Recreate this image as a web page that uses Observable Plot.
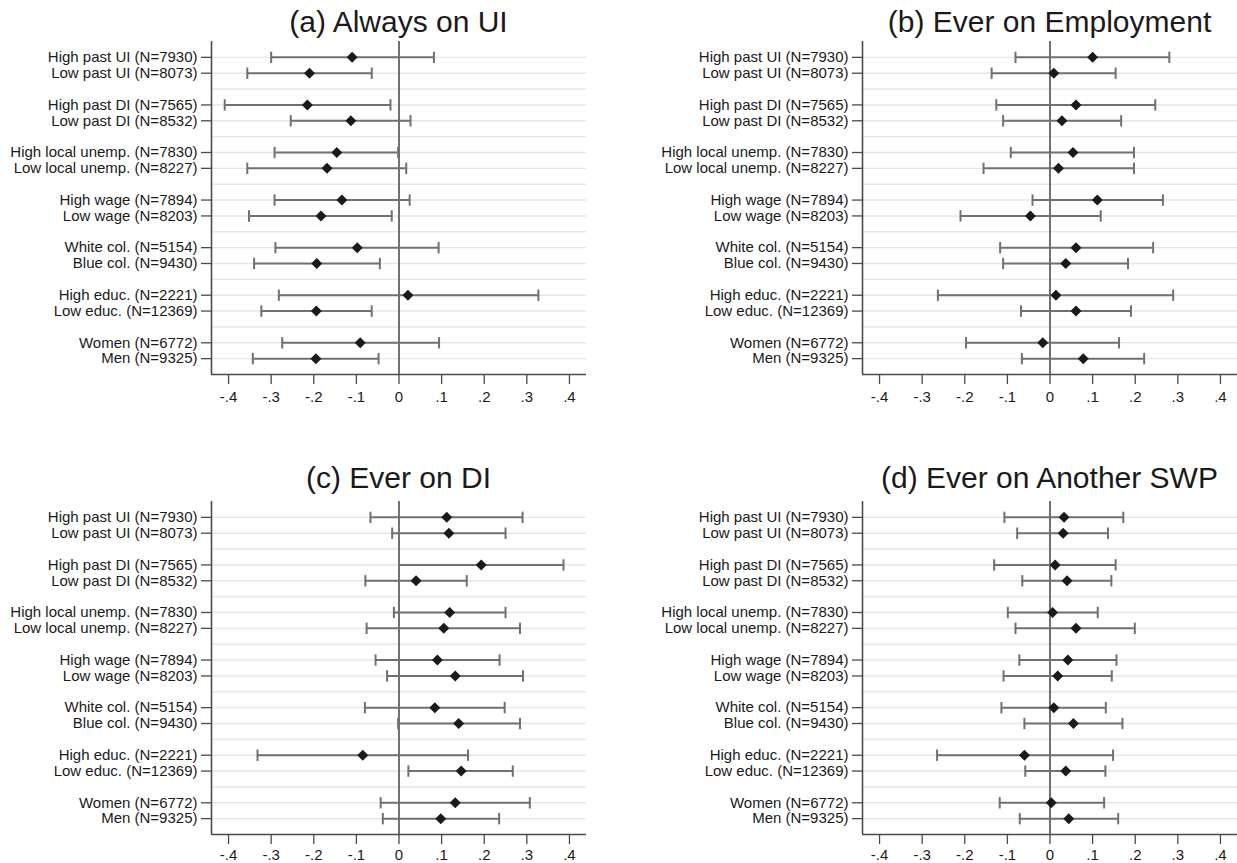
<!DOCTYPE html>
<html>
<head>
<meta charset="utf-8">
<script src="https://cdn.jsdelivr.net/npm/d3@7"></script>
<script src="https://cdn.jsdelivr.net/npm/@observablehq/plot@0.6"></script>
<style>
  html, body { margin: 0; padding: 0; background: #ffffff; }
  #root { position: relative; width: 1237px; height: 863px; background: #ffffff; overflow: hidden;
          font-family: 'Liberation Sans', Arial, Helvetica, sans-serif; }
  .panel { position: absolute; }
  .title { position: absolute; text-align: center; font-size: 30px; line-height: 30px; color: #1a1a1a; white-space: nowrap; }
</style>
</head>
<body>
<div id="root"></div>
<script>
// ---- Data ----
const rowLabels = [
  "High past UI (N=7930)", "Low past UI (N=8073)",
  "High past DI (N=7565)", "Low past DI (N=8532)",
  "High local unemp. (N=7830)", "Low local unemp. (N=8227)",
  "High wage (N=7894)", "Low wage (N=8203)",
  "White col. (N=5154)", "Blue col. (N=9430)",
  "High educ. (N=2221)", "Low educ. (N=12369)",
  "Women (N=6772)", "Men (N=9325)"
];
const panelTitles = ["(a) Always on UI", "(b) Ever on Employment", "(c) Ever on DI", "(d) Ever on Another SWP"];
const xTicks = [-0.4, -0.3, -0.2, -0.1, 0, 0.1, 0.2, 0.3, 0.4];

const estA = [-0.110, -0.210, -0.215, -0.113, -0.146, -0.169, -0.134, -0.183, -0.098, -0.193, 0.021, -0.194, -0.091, -0.195];
const loA  = [-0.300, -0.356, -0.409, -0.254, -0.292, -0.356, -0.292, -0.352, -0.290, -0.340, -0.282, -0.323, -0.274, -0.343];
const hiA  = [0.082, -0.064, -0.020, 0.027, -0.002, 0.017, 0.025, -0.017, 0.093, -0.045, 0.327, -0.064, 0.094, -0.048];

const estB = [0.100, 0.009, 0.061, 0.028, 0.054, 0.020, 0.111, -0.046, 0.061, 0.037, 0.014, 0.061, -0.017, 0.078];
const loB  = [-0.081, -0.137, -0.126, -0.110, -0.092, -0.156, -0.041, -0.210, -0.117, -0.110, -0.263, -0.068, -0.197, -0.066];
const hiB  = [0.280, 0.154, 0.247, 0.167, 0.197, 0.197, 0.265, 0.119, 0.242, 0.183, 0.289, 0.190, 0.162, 0.221];

const estC = [0.112, 0.117, 0.193, 0.040, 0.119, 0.105, 0.090, 0.132, 0.084, 0.140, -0.085, 0.146, 0.132, 0.098];
const loC  = [-0.067, -0.016, 0.000, -0.079, -0.012, -0.076, -0.055, -0.028, -0.080, -0.002, -0.332, 0.022, -0.043, -0.038];
const hiC  = [0.290, 0.250, 0.386, 0.159, 0.250, 0.284, 0.236, 0.291, 0.248, 0.284, 0.162, 0.267, 0.307, 0.235];

const estD = [0.033, 0.031, 0.012, 0.040, 0.006, 0.061, 0.042, 0.018, 0.009, 0.055, -0.060, 0.037, 0.003, 0.044];
const loD  = [-0.107, -0.077, -0.131, -0.065, -0.099, -0.081, -0.072, -0.109, -0.114, -0.060, -0.265, -0.058, -0.118, -0.071];
const hiD  = [0.172, 0.136, 0.154, 0.144, 0.112, 0.199, 0.156, 0.145, 0.131, 0.170, 0.148, 0.130, 0.127, 0.160];

// ---- Layout ----
const FONT = "'Liberation Sans', Arial, Helvetica, sans-serif";
const X_DOMAIN = [-0.44, 0.44];
const rowPos = rowLabels.map((_, i) => i + Math.floor(i / 2) + 1); // pairs separated by a blank slot
const gridPos = d3.range(1, 21);
const posLabel = new Map(rowPos.map((p, i) => [p, rowLabels[i]]));
const fmtX = d => d === 0 ? "0" : d3.format(".1f")(d).replace("0.", ".").replace("−", "-");

const vbar = { draw(ctx, size) { const r = Math.sqrt(size / Math.PI); ctx.moveTo(0, -r); ctx.lineTo(0, r); } };
const diamond = { draw(ctx, size) { const r = Math.sqrt(size / Math.PI);
  ctx.moveTo(0, -r); ctx.lineTo(r, 0); ctx.lineTo(0, r); ctx.lineTo(-r, 0); ctx.closePath(); } };

const panels = [
  { title: panelTitles[0], est: estA, lo: loA, hi: hiA, left: 0,   top: 0,   ml: 211, mr: 14, titleTop: 7,   pad: 7 },
  { title: panelTitles[1], est: estB, lo: loB, hi: hiB, left: 637, top: 0,   ml: 225, mr: 0,  titleTop: 7,   pad: 7 },
  { title: panelTitles[2], est: estC, lo: loC, hi: hiC, left: 0,   top: 460, ml: 211, mr: 14, titleTop: 463, pad: 5 },
  { title: panelTitles[3], est: estD, lo: loD, hi: hiD, left: 637, top: 460, ml: 225, mr: 0,  titleTop: 463, pad: 5 }
];

const root = document.getElementById("root");
const W = 600, H = 403, MT = 41, MB = 29;
const BAR = "#707070";

panels.forEach(p => {
  const data = rowLabels.map((label, i) => ({ label, pos: rowPos[i], est: p.est[i], lo: p.lo[i], hi: p.hi[i] }));
  const chart = Plot.plot({
    width: W, height: H,
    marginLeft: p.ml, marginRight: p.mr, marginTop: MT, marginBottom: MB,
    style: { fontFamily: FONT, fontSize: "15px", color: "#1a1a1a", background: "transparent", overflow: "visible" },
    x: { domain: X_DOMAIN, label: null },
    y: { domain: [0, 21], reverse: true, label: null },
    marks: [
      Plot.ruleY(gridPos, { stroke: "#e6e6e6", strokeWidth: 1.4 }),
      Plot.ruleX([0], { stroke: "#6a6a6a", strokeWidth: 1.9 }),
      Plot.ruleY(data, { y: "pos", x1: "lo", x2: "hi", stroke: BAR, strokeWidth: 2 }),
      Plot.dot(data, { x: "lo", y: "pos", symbol: vbar, r: 5.7, stroke: BAR, strokeWidth: 2, fill: "none" }),
      Plot.dot(data, { x: "hi", y: "pos", symbol: vbar, r: 5.7, stroke: BAR, strokeWidth: 2, fill: "none" }),
      Plot.dot(data, { x: "est", y: "pos", symbol: diamond, r: 5.5, fill: "#1a1a1a", stroke: "none" }),
      Plot.ruleX([X_DOMAIN[0]], { stroke: "#4a4a4a", strokeWidth: 1.6 }),
      Plot.ruleY([21], { stroke: "#4a4a4a", strokeWidth: 1.6 }),
      Plot.axisX({ ticks: xTicks, tickFormat: fmtX, tickSize: 10, tickPadding: p.pad, fontSize: 15, stroke: "#4a4a4a", strokeWidth: 1.3, label: null }),
      Plot.axisY({ ticks: rowPos, tickFormat: d => posLabel.get(d), tickSize: 10, tickPadding: 4, fontSize: 15, stroke: "#4a4a4a", strokeWidth: 1.3, label: null })
    ]
  });
  chart.classList.add("panel");
  chart.style.left = p.left + "px";
  chart.style.top = p.top + "px";
  chart.style.position = "absolute";
  root.appendChild(chart);

  const t = document.createElement("div");
  t.className = "title";
  t.textContent = p.title;
  t.style.left = (p.left + p.ml) + "px";
  t.style.width = (W - p.ml - p.mr) + "px";
  t.style.top = p.titleTop + "px";
  root.appendChild(t);
});
</script>
</body>
</html>
